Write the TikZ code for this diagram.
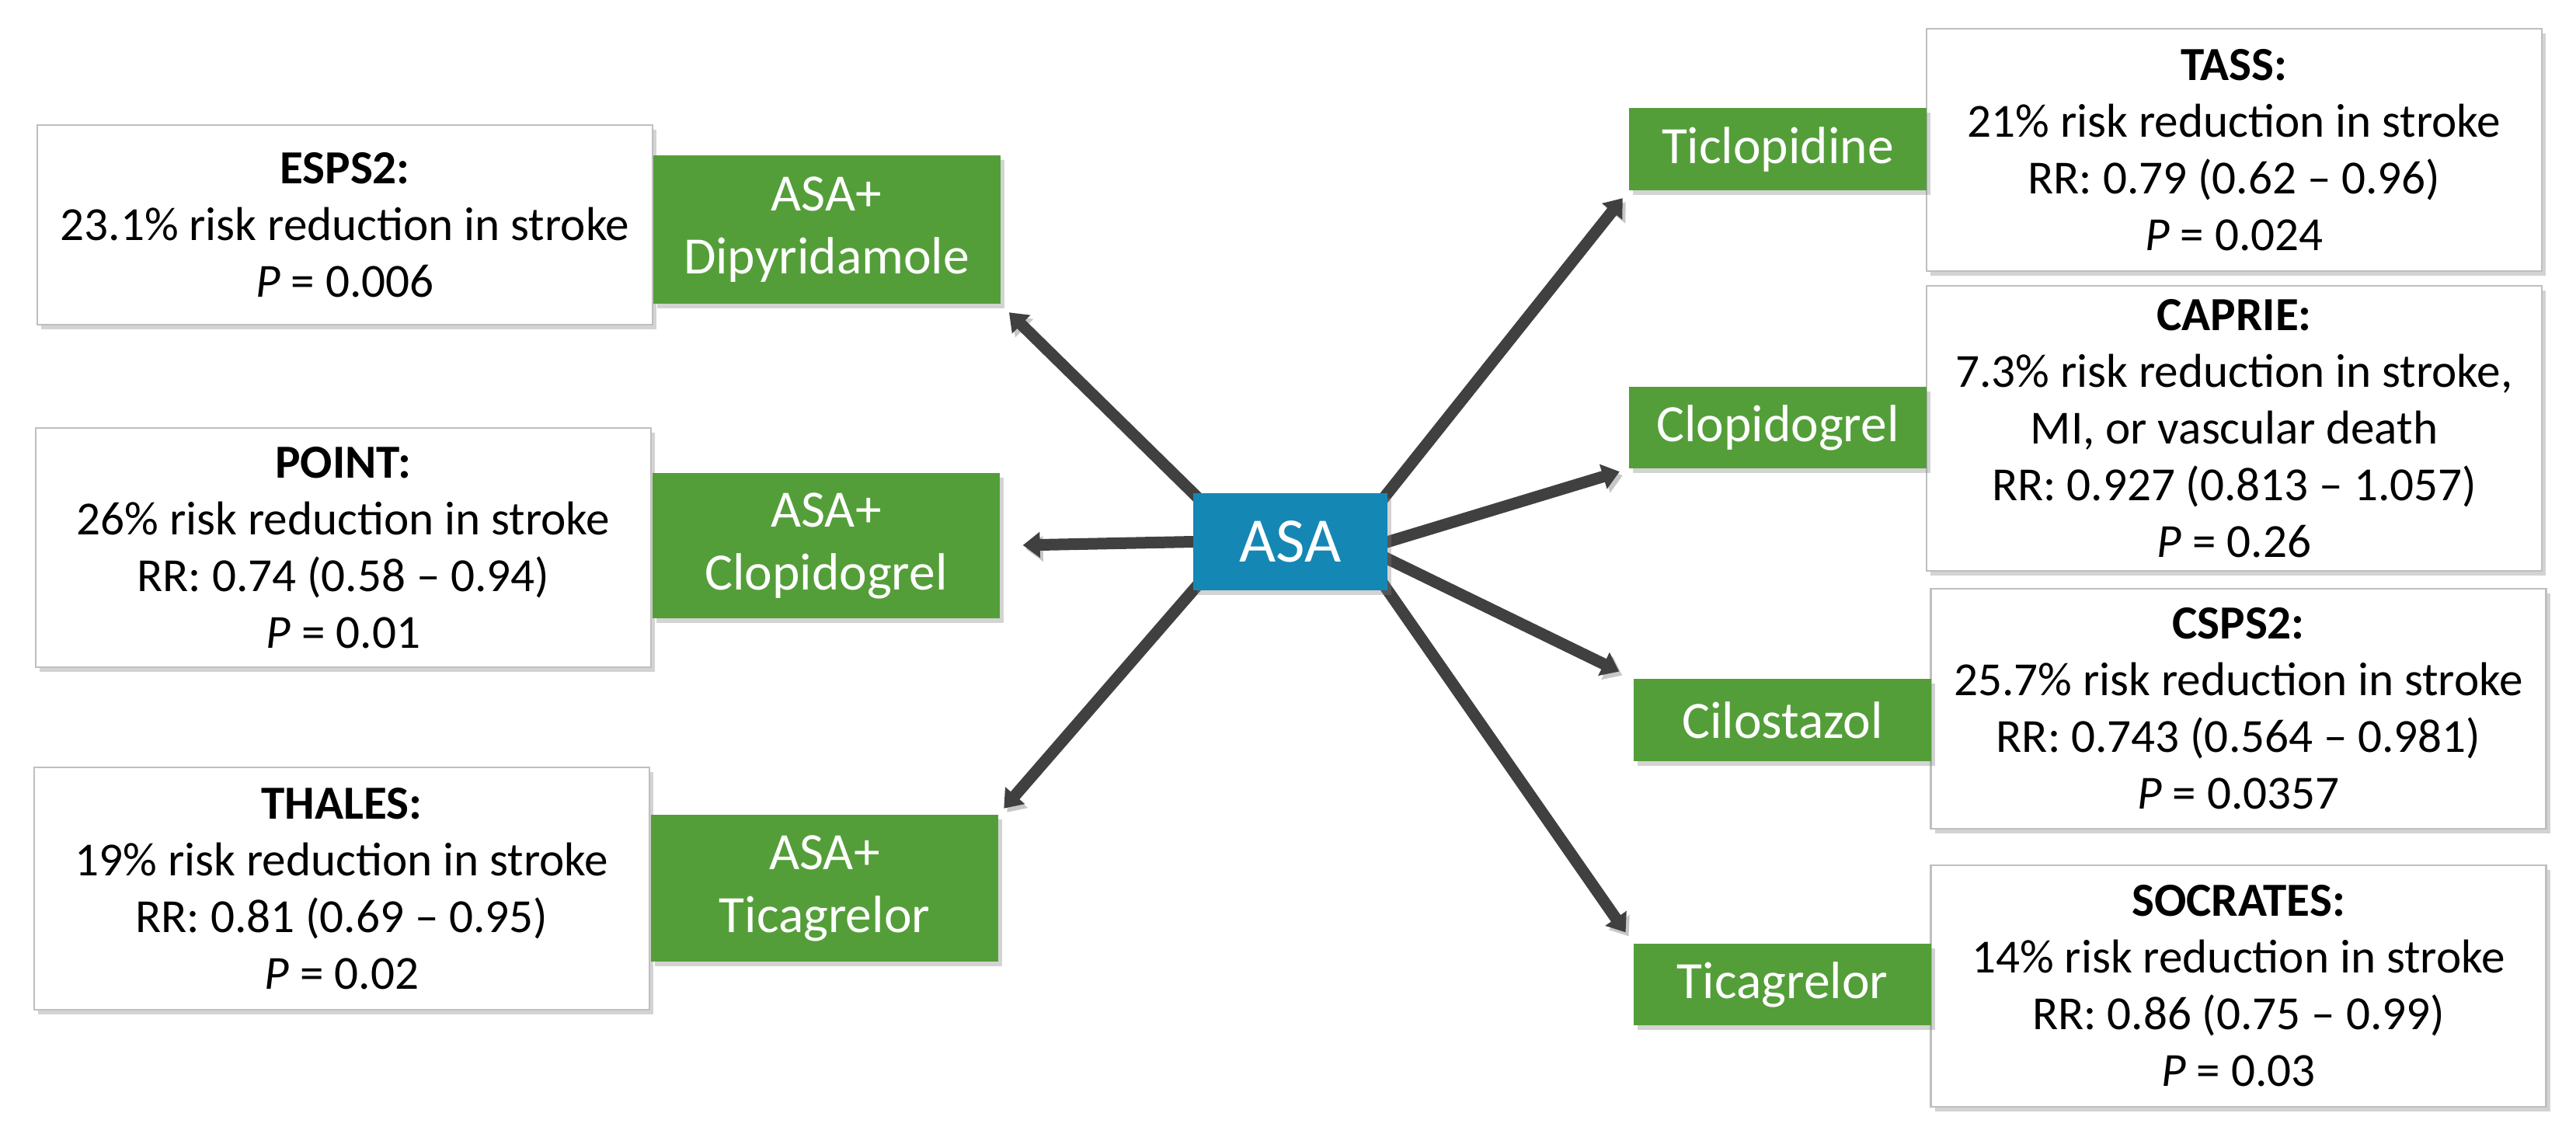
\documentclass[tikz,border=0pt]{standalone}
\usepackage{fontspec}
\setmainfont{Carlito}
\usetikzlibrary{arrows.meta,shadows}

\definecolor{drugGreen}{HTML}{549E39}
\definecolor{asaBlue}{HTML}{1587B5}
\definecolor{linkGray}{HTML}{404040}
\definecolor{edgeGray}{HTML}{BFBFBF}

\pgfdeclarelayer{bg}
\pgfsetlayers{bg,main}

\begin{document}
\begin{tikzpicture}[>={Triangle[length=0.22cm,width=0.32cm]},
    trial/.style={draw=edgeGray, line width=0.7pt, fill=white, align=center,
        minimum width=7.92cm, inner sep=0pt,
        font=\fontsize{17.4}{20.8}\selectfont,
        drop shadow={shadow xshift=0.05cm, shadow yshift=-0.06cm, opacity=0.35}},
    drug/.style={fill=drugGreen, text=white, align=center, inner sep=0pt,
        font=\fontsize{19.2}{23}\selectfont,
        drop shadow={shadow xshift=0.05cm, shadow yshift=-0.06cm, opacity=0.35}},
    link/.style={linkGray, line width=0.15cm, ->, shorten <=-0.15cm,
        preaction={draw=black!22, transform canvas={xshift=0.04cm, yshift=-0.05cm}}}]
    %% Background
    \draw[draw=none] (0,0) rectangle (33.16,-14.68);

    %% Trials, left side
    \node[trial, minimum height=2.57cm] (esps) at (4.44,-2.895)
        {\textbf{ESPS2:}\\23.1\% risk reduction in stroke\\\textit{P} = 0.006};
    \node[trial, minimum height=3.08cm] (point) at (4.42,-7.05)
        {\textbf{POINT:}\\26\% risk reduction in stroke\\RR: 0.74 (0.58 -- 0.94)\\\textit{P} = 0.01};
    \node[trial, minimum height=3.12cm] (thales) at (4.40,-11.44)
        {\textbf{THALES:}\\19\% risk reduction in stroke\\RR: 0.81 (0.69 -- 0.95)\\\textit{P} = 0.02};

    %% Trials, right side
    \node[trial, minimum height=3.12cm] (tass) at (28.76,-1.93)
        {\textbf{TASS:}\\21\% risk reduction in stroke\\RR: 0.79 (0.62 -- 0.96)\\\textit{P} = 0.024};
    \node[trial, minimum height=3.67cm] (caprie) at (28.76,-5.515)
        {\textbf{CAPRIE:}\\7.3\% risk reduction in stroke,\\MI, or vascular death\\RR: 0.927 (0.813 -- 1.057)\\\textit{P} = 0.26};
    \node[trial, minimum height=3.09cm] (csps) at (28.815,-9.125)
        {\textbf{CSPS2:}\\25.7\% risk reduction in stroke\\RR: 0.743 (0.564 -- 0.981)\\\textit{P} = 0.0357};
    \node[trial, minimum height=3.11cm] (socrates) at (28.815,-12.695)
        {\textbf{SOCRATES:}\\14\% risk reduction in stroke\\RR: 0.86 (0.75 -- 0.99)\\\textit{P} = 0.03};

    %% Drugs
    \node[drug, minimum width=4.47cm, minimum height=1.91cm] (dip) at (10.64,-2.955) {ASA+\\Dipyridamole};
    \node[drug, minimum width=4.47cm, minimum height=1.87cm] (clpL) at (10.635,-7.025) {ASA+\\Clopidogrel};
    \node[drug, minimum width=4.47cm, minimum height=1.89cm] (tcgL) at (10.615,-11.435) {ASA+\\Ticagrelor};

    \node[drug, minimum width=3.83cm, minimum height=1.06cm] (tic) at (22.885,-1.92) {Ticlopidine};
    \node[drug, minimum width=3.83cm, minimum height=1.05cm] (clpR) at (22.885,-5.505) {Clopidogrel};
    \node[drug, minimum width=3.83cm, minimum height=1.06cm] (cil) at (22.945,-9.27) {Cilostazol};
    \node[drug, minimum width=3.83cm, minimum height=1.05cm] (tcgR) at (22.945,-12.675) {Ticagrelor};

    %% ASA
    \node[fill=asaBlue, text=white, minimum width=2.5cm, minimum height=1.25cm,
        font=\fontsize{23.2}{28}\selectfont,
        drop shadow={shadow xshift=0.05cm, shadow yshift=-0.06cm, opacity=0.35}] (asa) at (16.61,-6.975) {ASA};

    %% Arrows
    \begin{pgfonlayer}{bg}
    \draw[link, shorten >=0.15cm] (asa.north west) -- (dip.south east);
    \draw[link, shorten >=0.29cm] (asa.west) -- (clpL.east);
    \draw[link, shorten >=0.1cm] (asa.south west) -- (tcgL.north east);
    \draw[link, shorten >=0.12cm] (asa.north east) -- (tic.south west);
    \draw[link, shorten >=0.12cm] (asa.east) -- (clpR.south west);
    \draw[link, shorten >=0.2cm] (asa.-10) -- (cil.north west);
    \draw[link, shorten >=0.17cm] (asa.south east) -- (tcgR.north west);
    \end{pgfonlayer}
\end{tikzpicture}
\end{document}
